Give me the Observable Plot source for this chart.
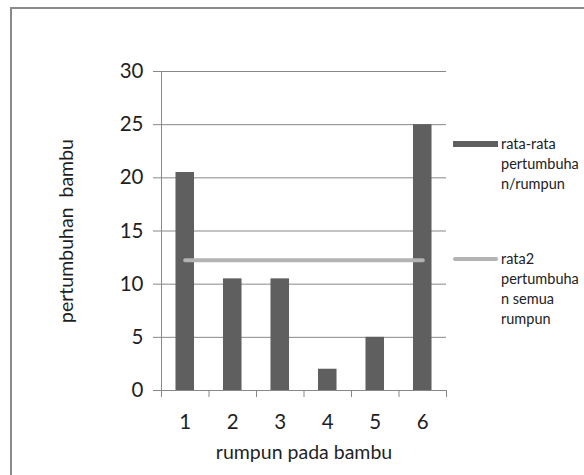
<!DOCTYPE html>
<html>
<head>
<meta charset="utf-8">
<script src="https://cdn.jsdelivr.net/npm/d3@7"></script>
<script src="https://cdn.jsdelivr.net/npm/@observablehq/plot@0.6"></script>
<style>
  html, body { margin: 0; padding: 0; background: #fff; }
  #wrap { position: relative; width: 584px; height: 475px; overflow: hidden; font-family: Lato, "Open Sans", sans-serif; }
  #frame { position: absolute; left: 10px; top: 7px; width: 620px; height: 520px; border: 2px solid #8a8a8a; box-sizing: border-box; }
  #chart { position: absolute; left: 0; top: 0; }
  #chart svg text { white-space: pre; }
  #chart svg g[aria-label="y-axis label"] text, #chart svg g[aria-label="x-axis label"] text { font-size: 19.5px; }
  .leg { position: absolute; left: 453px; font-size: 14.5px; color: #222; line-height: 20px; }
  .leg .sw { position: absolute; left: 0; width: 45px; }
  .leg .tx { position: absolute; left: 48px; white-space: nowrap; }
</style>
</head>
<body>
<div id="wrap">
  <div id="frame"></div>
  <div id="chart"></div>
  <div id="legend"></div>
</div>
<script>
const categories = [1, 2, 3, 4, 5, 6];
const growthPerClump = [20.5, 10.5, 10.5, 2, 5, 25];
const growthAllClumps = [12.25, 12.25, 12.25, 12.25, 12.25, 12.25];
const yTicks = [0, 5, 10, 15, 20, 25, 30];
const xTickBounds = [0.5, 1.5, 2.5, 3.5, 4.5, 5.5, 6.5];
const seriesNames = ["rata-rata\npertumbuha\nn/rumpun", "rata2\npertumbuha\nn semua\nrumpun"];
const xTitle = "rumpun pada bambu";
const yTitle = "pertumbuhan  bambu";

const barColor = "#5f5f5f";
const lineColor = "#b3b3b3";
const gridColor = "#888888";
const textColor = "#1f1f1f";

const bars = categories.map((k, i) => ({k, v: growthPerClump[i]}));
const avg = categories.map((k, i) => ({k, v: growthAllClumps[i]}));
const halfBar = 0.195;

const plot = Plot.plot({
  width: 584,
  height: 475,
  marginLeft: 161,
  marginRight: 138,
  marginTop: 71,
  marginBottom: 85,
  style: {fontFamily: "Lato, 'Open Sans', sans-serif", color: textColor, background: "transparent"},
  x: {domain: [0.5, 6.5]},
  y: {domain: [0, 30]},
  marks: [
    Plot.gridY(yTicks, {stroke: gridColor, strokeOpacity: 1, strokeWidth: 1}),
    Plot.axisY(yTicks, {tickSize: 8, tickPadding: 10, stroke: gridColor, fontSize: 20.5, label: yTitle, labelAnchor: "center", labelArrow: "none", labelOffset: 102}),
    Plot.ruleX([0.5], {stroke: gridColor}),
    Plot.ruleY([0], {stroke: gridColor}),
    Plot.axisX(xTickBounds, {tickSize: 7, stroke: gridColor, tickFormat: () => "", label: null}),
    Plot.axisX(categories, {tickSize: 0, tickPadding: 24, fontSize: 20.5, label: xTitle, labelAnchor: "center", labelArrow: "none", labelOffset: 68}),
    Plot.rectY(bars, {x1: d => d.k - halfBar, x2: d => d.k + halfBar, y: "v", fill: barColor}),
    Plot.lineY(avg, {x: "k", y: "v", stroke: lineColor, strokeWidth: 4})
  ]
});
document.getElementById("chart").appendChild(plot);

// legend (HTML overlay to the right of the plot)
const legend = document.getElementById("legend");
const legItems = [
  {top: 134, swatch: `top:7px;height:6px;background:${barColor};`},
  {top: 249, swatch: `top:8px;height:4px;border-radius:2px;background:${lineColor};`}
];
legItems.forEach((it, i) => {
  const d = document.createElement("div");
  d.className = "leg";
  d.style.top = it.top + "px";
  d.innerHTML = `<div class="sw" style="${it.swatch}"></div><div class="tx">${seriesNames[i].split("\n").join("<br>")}</div>`;
  legend.appendChild(d);
});
</script>
</body>
</html>
